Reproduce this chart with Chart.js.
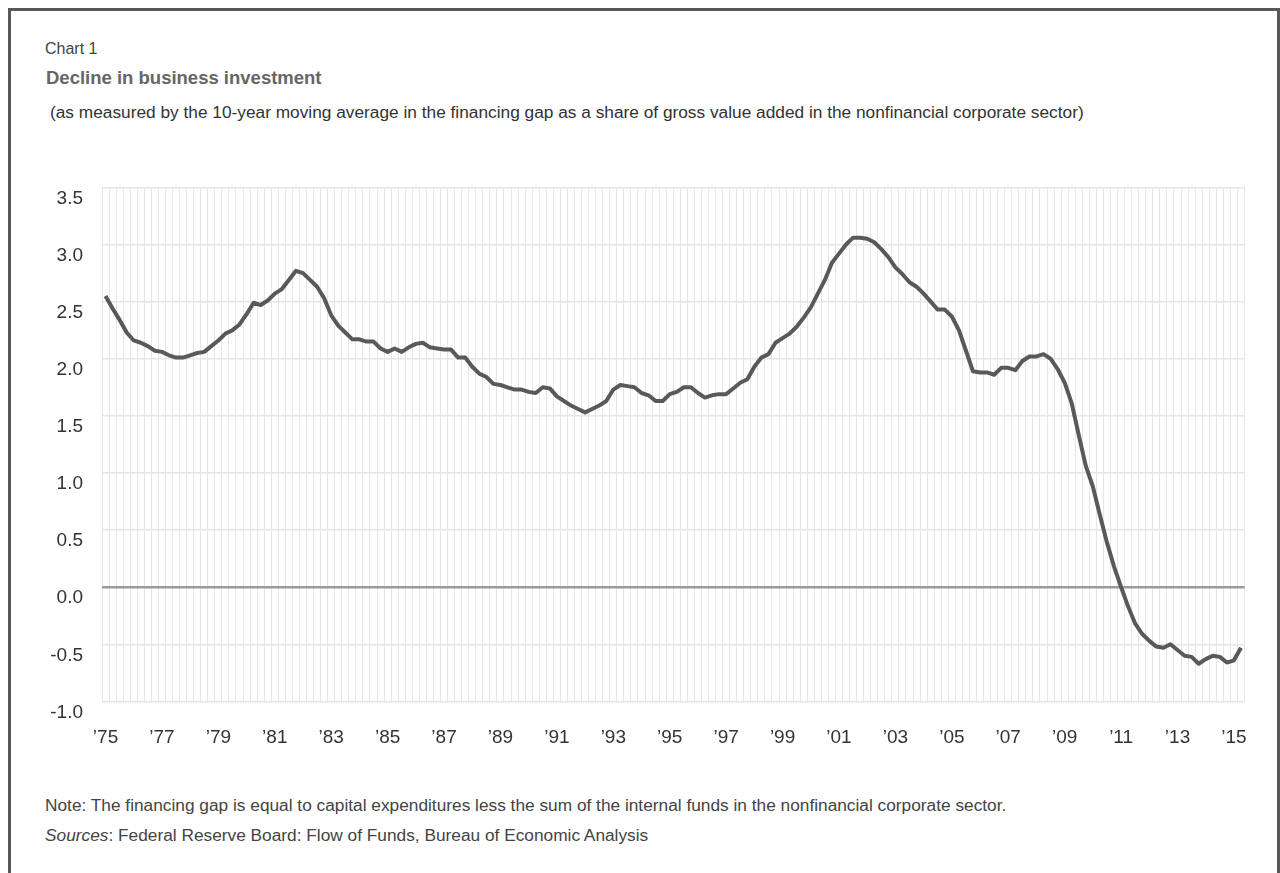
<!DOCTYPE html>
<html>
<head>
<meta charset="utf-8">
<script src="https://cdn.jsdelivr.net/npm/chart.js@4.4.1/dist/chart.umd.min.js"></script>
<style>
  body { margin: 0; background: #fff; font-family: "Liberation Sans", Arial, sans-serif; }
  .frame { position: absolute; left: 8px; top: 8px; width: 1272px; height: 900px; box-sizing: border-box;
           border: 3px solid #585858; border-bottom: none; }
  .txt { position: absolute; white-space: nowrap; line-height: 1; }
  #kicker { left: 45px; top: 41px; font-size: 16px; color: #444; }
  #title { left: 46px; top: 69px; font-size: 18.5px; font-weight: bold; color: #666; }
  #subtitle { left: 50px; top: 103.5px; font-size: 17.3px; color: #333; }
  #note { left: 45px; top: 796.5px; font-size: 17.3px; color: #444; }
  #sources { left: 45px; top: 826.5px; font-size: 17.3px; color: #444; }
  #wrap { position: absolute; left: 0; top: 156.6px; width: 1266px; height: 594.4px; }
</style>
</head>
<body>
<div class="frame"></div>
<div class="txt" id="kicker">Chart 1</div>
<div class="txt" id="title">Decline in business investment</div>
<div class="txt" id="subtitle">(as measured by the 10-year moving average in the financing gap as a share of gross value added in the nonfinancial corporate sector)</div>
<div class="txt" id="note">Note: The financing gap is equal to capital expenditures less the sum of the internal funds in the nonfinancial corporate sector.</div>
<div class="txt" id="sources"><i>Sources</i>: Federal Reserve Board: Flow of Funds, Bureau of Economic Analysis</div>
<div id="wrap"><canvas id="gapChart"></canvas></div>

<script>
// quarterly, 1975Q1 .. 2015Q2
const firstYear = 1975;
const lastYear = 2015;
const lastQuarter = 2;

const yearTicks = ['’75', '’77', '’79', '’81', '’83', '’85', '’87', '’89', '’91', '’93', '’95',
  '’97', '’99', '’01', '’03', '’05', '’07', '’09', '’11', '’13', '’15'];

const financingGap = [
  2.55, 2.44, 2.34, 2.23, 2.16, 2.14, 2.11, 2.07, 2.06, 2.03, 2.01, 2.01, 2.03, 2.05, 2.06, 2.11,
  2.16, 2.22, 2.25, 2.30, 2.39, 2.49, 2.47, 2.51, 2.57, 2.61, 2.69, 2.77, 2.75, 2.69, 2.63, 2.53,
  2.38, 2.29, 2.23, 2.17, 2.17, 2.15, 2.15, 2.09, 2.06, 2.09, 2.06, 2.10, 2.13, 2.14, 2.10, 2.09,
  2.08, 2.08, 2.01, 2.01, 1.93, 1.87, 1.84, 1.78, 1.77, 1.75, 1.73, 1.73, 1.71, 1.70, 1.75, 1.74,
  1.67, 1.63, 1.59, 1.56, 1.53, 1.56, 1.59, 1.63, 1.73, 1.77, 1.76, 1.75, 1.70, 1.68, 1.63, 1.63,
  1.69, 1.71, 1.75, 1.75, 1.70, 1.66, 1.68, 1.69, 1.69, 1.74, 1.79, 1.82, 1.93, 2.01, 2.04, 2.14,
  2.18, 2.22, 2.28, 2.36, 2.45, 2.57, 2.69, 2.84, 2.92, 3.00, 3.06, 3.06, 3.05, 3.02, 2.96, 2.89,
  2.80, 2.74, 2.67, 2.63, 2.57, 2.50, 2.43, 2.43, 2.37, 2.25, 2.07, 1.89, 1.88, 1.88, 1.86, 1.92,
  1.92, 1.90, 1.98, 2.02, 2.02, 2.04, 2.00, 1.91, 1.79, 1.61, 1.33, 1.06, 0.88, 0.63, 0.39, 0.18,
  0.00, -0.17, -0.32, -0.41, -0.47, -0.52, -0.53, -0.50, -0.55, -0.60, -0.61, -0.67, -0.63, -0.60, -0.61, -0.66,
  -0.64, -0.53
];

const quarters = [];
for (let y = firstYear; y <= lastYear; y++) {
  for (let q = 1; q <= 4; q++) {
    if (y === lastYear && q > lastQuarter) break;
    quarters.push(y + 'Q' + q);
  }
}

const tickFont = { family: '"Liberation Sans", Arial, sans-serif', size: 19 };

new Chart(document.getElementById('gapChart'), {
  type: 'line',
  data: {
    labels: quarters,
    datasets: [{
      label: 'Financing gap',
      data: financingGap,
      borderColor: '#595959',
      borderWidth: 4,
      pointRadius: 0,
      tension: 0,
      borderJoinStyle: 'round',
      fill: false
    }]
  },
  options: {
    responsive: true,
    maintainAspectRatio: false,
    animation: false,
    layout: { padding: 0 },
    plugins: { legend: { display: false }, tooltip: { enabled: false } },
    scales: {
      x: {
        offset: true,
        grid: { offset: true, color: '#e6e6e6', lineWidth: 1, drawTicks: false },
        border: { display: false },
        ticks: {
          autoSkip: false,
          maxRotation: 0,
          padding: 25,
          color: '#333',
          font: tickFont,
          callback: (v, i) => (i % 8 === 0 ? yearTicks[i / 8] : '')
        },
        afterFit: (scale) => { scale.height = 50; }
      },
      y: {
        min: -1,
        max: 3.5,
        grid: {
          drawTicks: false,
          color: (ctx) => (ctx.tick && ctx.tick.value === 0 ? '#9a9a9a' : '#e6e6e6'),
          lineWidth: (ctx) => (ctx.tick && ctx.tick.value === 0 ? 2.5 : 1.5)
        },
        border: { display: false },
        ticks: {
          stepSize: 0.5,
          padding: 19,
          labelOffset: 11,
          color: '#333',
          font: tickFont,
          callback: (v) => v.toFixed(1)
        },
        afterFit: (scale) => { scale.width = 102; }
      }
    }
  }
});
</script>
</body>
</html>
